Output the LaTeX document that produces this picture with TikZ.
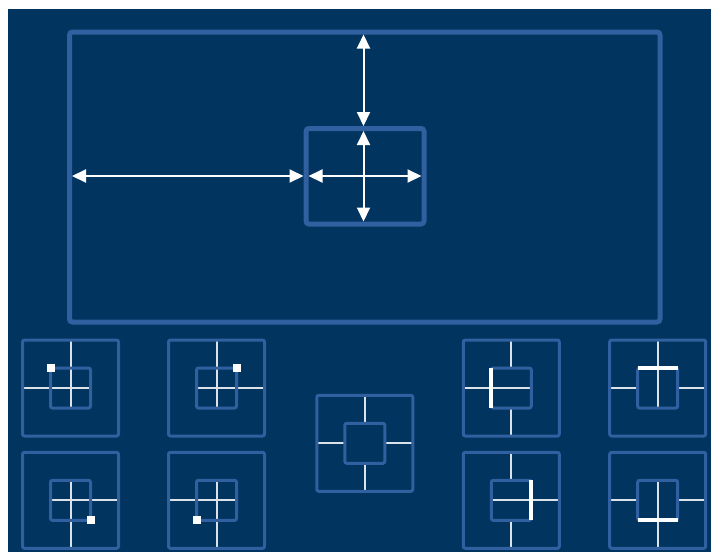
\documentclass[tikz,border=0pt]{standalone}
\usetikzlibrary{arrows.meta,calc}
\pgfdeclarelayer{back}
\pgfdeclarelayer{guides}
\pgfsetlayers{back,guides,main}
\definecolor{navy}{HTML}{01345E}
\definecolor{frameblue}{HTML}{3160A0}
\definecolor{guidegrey}{HTML}{DCE2EA}
\begin{document}
\begin{tikzpicture}[x=1pt,y=-1pt,
  box/.style={draw=frameblue, rounded corners=2pt, inner sep=0pt, outer sep=0pt},
  bigbox/.style={box, line width=5pt, rounded corners=3pt},
  panel/.style={box, line width=3pt, minimum size=96pt},
  target/.style={box, line width=3pt, minimum size=40pt},
  guide/.style={draw=guidegrey, line width=2pt},
  bar/.style={draw=white, line width=4pt},
  handle/.style={fill=white, minimum size=8pt, inner sep=0pt, outer sep=0pt},
  dim/.style={draw=white, line width=2pt,
    {Triangle[length=14pt,width=13pt]}-{Triangle[length=14pt,width=13pt]}}
]
\useasboundingbox (0,0) rectangle (711,552);
\begin{pgfonlayer}{back}
  \fill[white] (0,0) rectangle (711,552);
  \fill[navy] (8,9) rectangle (711,552);
\end{pgfonlayer}

% screen and window
\node[bigbox, minimum width=590.5pt, minimum height=290pt] (frame) at (364.75,177) {};
\node[bigbox, minimum width=118pt, minimum height=95.5pt] (win) at (365,176.25) {};
\coordinate (axis) at (363.5,176);

\draw[dim] ($(axis |- frame.north)+(0,2.5)$) -- ($(axis |- win.north)+(0,-2.5)$);
\draw[dim] ($(axis |- win.north)+(0,2.5)$) -- ($(axis |- win.south)+(0,-2.5)$);
\draw[dim] ($(axis -| win.west)+(2.5,0)$) -- ($(axis -| win.east)+(-2.5,0)$);
\draw[dim] ($(axis -| frame.west)+(2.5,0)$) -- ($(axis -| win.west)+(-2.5,0)$);

% small panels
\foreach \n/\x/\y in {1/70.5/388, 2/216.5/388, 3/70.5/500.3, 4/216.5/500.3,
                      c/364.8/443.3,
                      5/511.3/388, 6/657.7/388, 7/511.3/500.3, 8/657.7/500.3}{
  \node[panel] (p\n) at (\x,\y) {};
  \node[target] (t\n) at (\x,\y) {};
}

\begin{pgfonlayer}{guides}
  % corner handles
  \draw[guide] (t1.center |- p1.north) -- (t1.center |- t1.south);
  \draw[guide] (t1.center -| p1.west) -- (t1.center -| t1.east);
  \draw[guide] (t2.center |- p2.north) -- (t2.center |- t2.south);
  \draw[guide] (t2.center -| t2.west) -- (t2.center -| p2.east);
  \draw[guide] (t3.center |- t3.north) -- (t3.center |- p3.south);
  \draw[guide] (t3.center -| t3.west) -- (t3.center -| p3.east);
  \draw[guide] (t4.center |- t4.north) -- (t4.center |- p4.south);
  \draw[guide] (t4.center -| p4.west) -- (t4.center -| t4.east);
  % centre
  \draw[guide] (tc.center |- pc.north) -- (tc.center |- tc.north);
  \draw[guide] (tc.center |- tc.south) -- (tc.center |- pc.south);
  \draw[guide] (tc.center -| pc.west) -- (tc.center -| tc.west);
  \draw[guide] (tc.center -| tc.east) -- (tc.center -| pc.east);
  % edge handles
  \draw[guide] (t5.center |- p5.north) -- (t5.center |- t5.north);
  \draw[guide] (t5.center |- t5.south) -- (t5.center |- p5.south);
  \draw[guide] (t5.center -| p5.west) -- (t5.center -| t5.east);
  \draw[guide] (t6.center |- p6.north) -- (t6.center |- t6.south);
  \draw[guide] (t6.center -| p6.west) -- (t6.center -| t6.west);
  \draw[guide] (t6.center -| t6.east) -- (t6.center -| p6.east);
  \draw[guide] (t7.center |- p7.north) -- (t7.center |- t7.north);
  \draw[guide] (t7.center |- t7.south) -- (t7.center |- p7.south);
  \draw[guide] (t7.center -| t7.west) -- (t7.center -| p7.east);
  \draw[guide] (t8.center |- t8.north) -- (t8.center |- p8.south);
  \draw[guide] (t8.center -| p8.west) -- (t8.center -| t8.west);
  \draw[guide] (t8.center -| t8.east) -- (t8.center -| p8.east);
\end{pgfonlayer}

\node[handle] (h1) at (t1.north west) {};
\node[handle] (h2) at (t2.north east) {};
\node[handle] (h3) at (t3.south east) {};
\node[handle] (h4) at (t4.south west) {};

\draw[bar] (t5.north west) -- (t5.south west);
\draw[bar] (t6.north west) -- (t6.north east);
\draw[bar] (t7.north east) -- (t7.south east);
\draw[bar] (t8.south west) -- (t8.south east);
\end{tikzpicture}
\end{document}
